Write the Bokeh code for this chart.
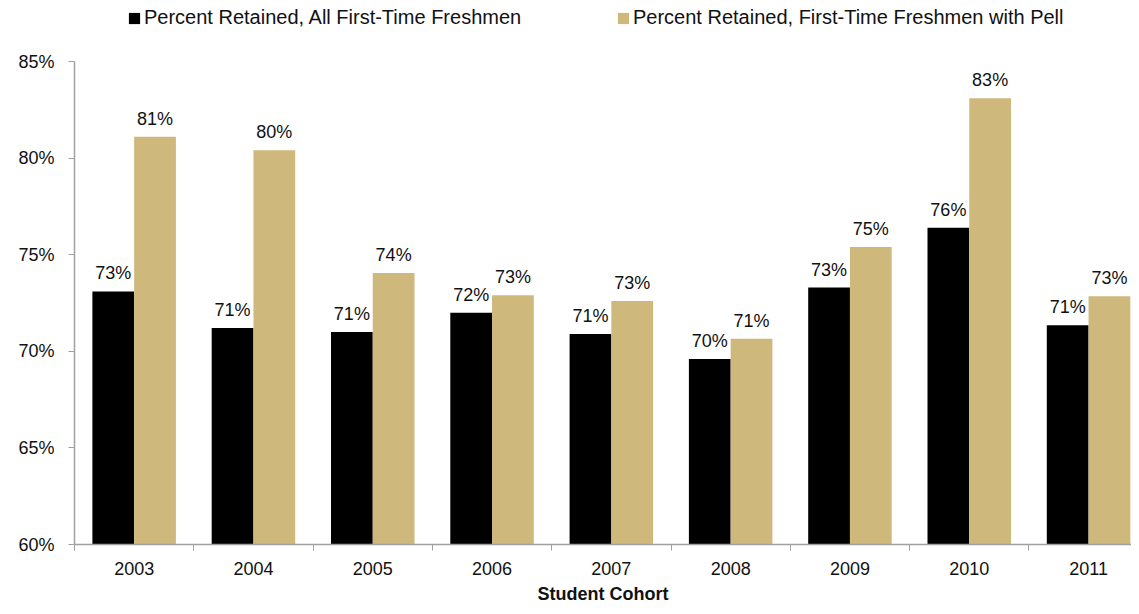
from bokeh.plotting import figure
from bokeh.layouts import column
from bokeh.models import (Range1d, FixedTicker, PrintfTickFormatter, Legend, LegendItem,
                          ColumnDataSource, LabelSet)
from bokeh.core.properties import value
from bokeh.embed import file_html
from bokeh.resources import INLINE

years = ["2003", "2004", "2005", "2006", "2007", "2008", "2009", "2010", "2011"]
all_freshmen = [73.1, 71.2, 71.0, 72.0, 70.9, 69.6, 73.3, 76.4, 71.35]
pell_freshmen = [81.1, 80.4, 74.05, 72.9, 72.6, 70.65, 75.4, 83.1, 72.85]
series_names = ["Percent Retained, All First-Time Freshmen",
                "Percent Retained, First-Time Freshmen with Pell"]
y_ticks = [60, 65, 70, 75, 80, 85]

BLACK = "#000000"
GOLD = "#CFB87C"
AXIS = "#a0a0a0"
FONT = "Liberation Sans"
TXT = "#111111"
W = 1131
LEG_H = 36

n = len(years)
centers = [i + 0.5 for i in range(n)]
bw = 0.35
x_black = [c - bw / 2 for c in centers]
x_gold = [c + bw / 2 for c in centers]

# ---- legend strip (frame aligned with the main chart's frame) ----
leg = figure(width=W, height=LEG_H, output_backend="svg", toolbar_location=None,
             x_range=Range1d(0, 1), y_range=Range1d(0, 1),
             x_axis_type=None, y_axis_type=None,
             min_border_left=74, min_border_right=0, min_border_top=0, min_border_bottom=0)
leg.outline_line_color = None
leg.xgrid.visible = False
leg.ygrid.visible = False
# swatch renderers kept outside the visible range; they only feed the legend
lb = leg.vbar(x=[5], top=[5], bottom=[4], width=0.1, fill_color=BLACK, line_color=None)
lg = leg.vbar(x=[5], top=[5], bottom=[4], width=0.1, fill_color=GOLD, line_color=None)
for r, name, xloc in ((lb, series_names[0], 53), (lg, series_names[1], 542)):
    leg.add_layout(Legend(items=[LegendItem(label=name, renderers=[r])],
                          location=(xloc, 7), glyph_width=14, glyph_height=14,
                          label_standoff=3, padding=0, margin=0,
                          border_line_color=None, background_fill_alpha=0,
                          label_text_font=FONT, label_text_font_size="20px",
                          label_text_color=TXT), "center")

# ---- main chart ----
p = figure(width=W, height=606 - LEG_H, output_backend="svg", toolbar_location=None,
           x_range=Range1d(0, 8.86), y_range=Range1d(60, 85),
           min_border_left=74, min_border_right=0, min_border_top=61 - LEG_H,
           min_border_bottom=10)
p.outline_line_color = None
p.xgrid.visible = False
p.ygrid.visible = False

src_b = ColumnDataSource(dict(x=x_black, top=all_freshmen,
                              text=[f"{round(v)}%" for v in all_freshmen]))
src_g = ColumnDataSource(dict(x=x_gold, top=pell_freshmen,
                              text=[f"{round(v)}%" for v in pell_freshmen]))

rb = p.vbar(x="x", top="top", bottom=60, width=bw, source=src_b,
            fill_color=BLACK, line_color=None)
rg = p.vbar(x="x", top="top", bottom=60, width=bw, source=src_g,
            fill_color=GOLD, line_color=None)

for src in (src_b, src_g):
    p.add_layout(LabelSet(x="x", y="top", text="text", source=src,
                          text_align="center", text_baseline="bottom",
                          y_offset=8, text_font=value(FONT), text_font_size=value("18px"),
                          text_color=TXT))

# x axis
p.xaxis.ticker = FixedTicker(ticks=centers, minor_ticks=list(range(n + 1)))
p.xaxis.major_label_overrides = {c: y for c, y in zip(centers, years)}
p.xaxis.major_tick_out = 0
p.xaxis.major_tick_in = 0
p.xaxis.minor_tick_out = 6
p.xaxis.minor_tick_in = 0
p.xaxis.minor_tick_line_color = AXIS
p.xaxis.axis_line_color = AXIS
p.xaxis.axis_line_width = 1.5
p.xaxis.major_label_text_font = FONT
p.xaxis.major_label_text_font_size = "18px"
p.xaxis.major_label_text_color = TXT
p.xaxis.major_label_standoff = 11
p.xaxis.axis_label = "Student Cohort"
p.xaxis.axis_label_text_font = FONT
p.xaxis.axis_label_text_font_size = "18px"
p.xaxis.axis_label_text_font_style = "bold"
p.xaxis.axis_label_text_color = TXT
p.xaxis.axis_label_standoff = 6

# y axis
p.yaxis.ticker = FixedTicker(ticks=y_ticks)
p.yaxis.formatter = PrintfTickFormatter(format="%d%%")
p.yaxis.minor_tick_line_color = None
p.yaxis.major_tick_out = 6
p.yaxis.major_tick_in = 0
p.yaxis.major_tick_line_color = AXIS
p.yaxis.axis_line_color = AXIS
p.yaxis.axis_line_width = 1.5
p.yaxis.major_label_text_font = FONT
p.yaxis.major_label_text_font_size = "18px"
p.yaxis.major_label_text_color = TXT
p.yaxis.major_label_standoff = 14

layout = column(leg, p, spacing=0)
open("out.html", "w").write(file_html(layout, INLINE))
